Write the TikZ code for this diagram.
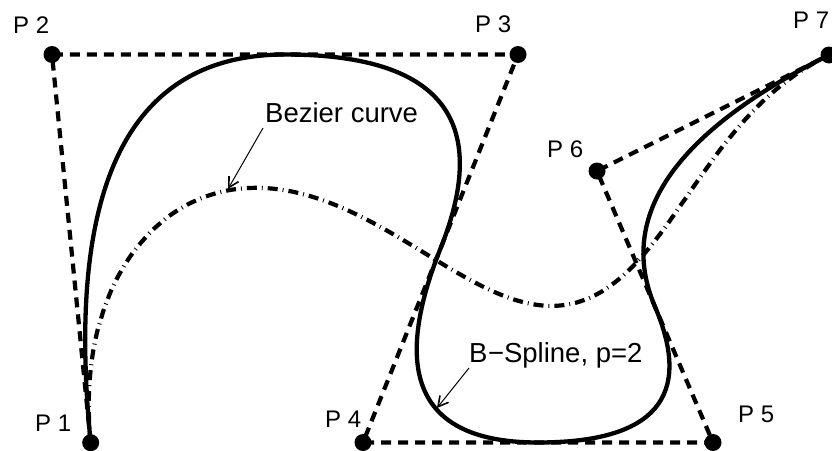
\documentclass[tikz,border=0pt]{standalone}
\usepackage{fontspec}
\setmainfont{Liberation Sans}
\usetikzlibrary{calc,arrows.meta}
\begin{document}
\begin{tikzpicture}[x=1pt,y=-1pt,
  ctrl/.style={line width=4.2pt,dash pattern=on 10pt off 7pt},
  bspl/.style={line width=4.3pt},
  bez/.style={line width=4.2pt,dash pattern=on 10pt off 5pt on 0.9pt off 5pt},
  pdot/.style={circle,fill=black,inner sep=0pt,minimum size=17pt},
  plab/.style={anchor=base west,inner sep=0pt,font=\fontsize{24}{28}\selectfont},
  clab/.style={anchor=base west,inner sep=0pt,font=\fontsize{27.5}{32}\selectfont},
  pointer/.style={line width=1pt,-{Straight Barb[length=10pt,width=11pt,line width=1.6pt]}}]
\useasboundingbox (0,0) rectangle (832,450);
% control points
\coordinate (P1) at (90.7,442.7);
\coordinate (P2) at (52,54.5);
\coordinate (P3) at (518,54.5);
\coordinate (P4) at (363,442.5);
\coordinate (P5) at (713,442.5);
\coordinate (P6) at (597,171);
\coordinate (P7) at (829,55);
% control polygon
\draw[ctrl] (P1) -- (P2) -- (P3) -- (P4) -- (P5) -- (P6) -- (P7);
% quadratic B-spline (clamped, uniform)
\coordinate (M23) at ($(P2)!0.5!(P3)$);
\coordinate (M34) at ($(P3)!0.5!(P4)$);
\coordinate (M45) at ($(P4)!0.5!(P5)$);
\coordinate (M56) at ($(P5)!0.5!(P6)$);
\draw[bspl,line join=round]
  (P1) .. controls ($(P1)!2/3!(P2)$) and ($(M23)!2/3!(P2)$) .. (M23)
       .. controls ($(M23)!2/3!(P3)$) and ($(M34)!2/3!(P3)$) .. (M34)
       .. controls ($(M34)!2/3!(P4)$) and ($(M45)!2/3!(P4)$) .. (M45)
       .. controls ($(M45)!2/3!(P5)$) and ($(M56)!2/3!(P5)$) .. (M56)
       .. controls ($(M56)!2/3!(P6)$) and ($(P7)!2/3!(P6)$) .. (P7);
% Bezier curve of degree 6
\draw[bez] plot[domain=0:1,samples=160,variable=\t,smooth]
  ({(1-\t)^6*90.7 + 6*\t*(1-\t)^5*52 + 15*\t^2*(1-\t)^4*518 + 20*\t^3*(1-\t)^3*363 + 15*\t^4*(1-\t)^2*713 + 6*\t^5*(1-\t)*597 + \t^6*829},
   {(1-\t)^6*442.7 + 6*\t*(1-\t)^5*54.5 + 15*\t^2*(1-\t)^4*54.5 + 20*\t^3*(1-\t)^3*442.5 + 15*\t^4*(1-\t)^2*442.5 + 6*\t^5*(1-\t)*171 + \t^6*55});
% dots
\node[pdot] (d1) at (P1) {};
\node[pdot] (d2) at (P2) {};
\node[pdot] (d3) at (P3) {};
\node[pdot] (d4) at (P4) {};
\node[pdot] (d5) at (P5) {};
\node[pdot] (d6) at (P6) {};
\node[pdot] (d7) at (P7) {};
% point labels
\node[plab] (l1) at (35,431) {P 1};
\node[plab] (l2) at (13,33) {P 2};
\node[plab] (l3) at (475,32) {P 3};
\node[plab] (l4) at (325,427) {P 4};
\node[plab] (l5) at (738,422) {P 5};
\node[plab] (l6) at (547,157) {P 6};
\node[plab] (l7) at (793,28) {P 7};
% curve labels
\node[clab] (lbez) at (265,122) {Bezier curve};
\node[clab] (lbsp) at (469,362) {B\kern0.5pt−Spline, p=2};
\coordinate (abez0) at (263,128);
\coordinate (abez1) at (228,189);
\coordinate (absp0) at (469,368);
\coordinate (absp1) at (437,408);
\draw[pointer] (abez0) -- (abez1);
\draw[pointer] (absp0) -- (absp1);
\end{tikzpicture}
\end{document}
